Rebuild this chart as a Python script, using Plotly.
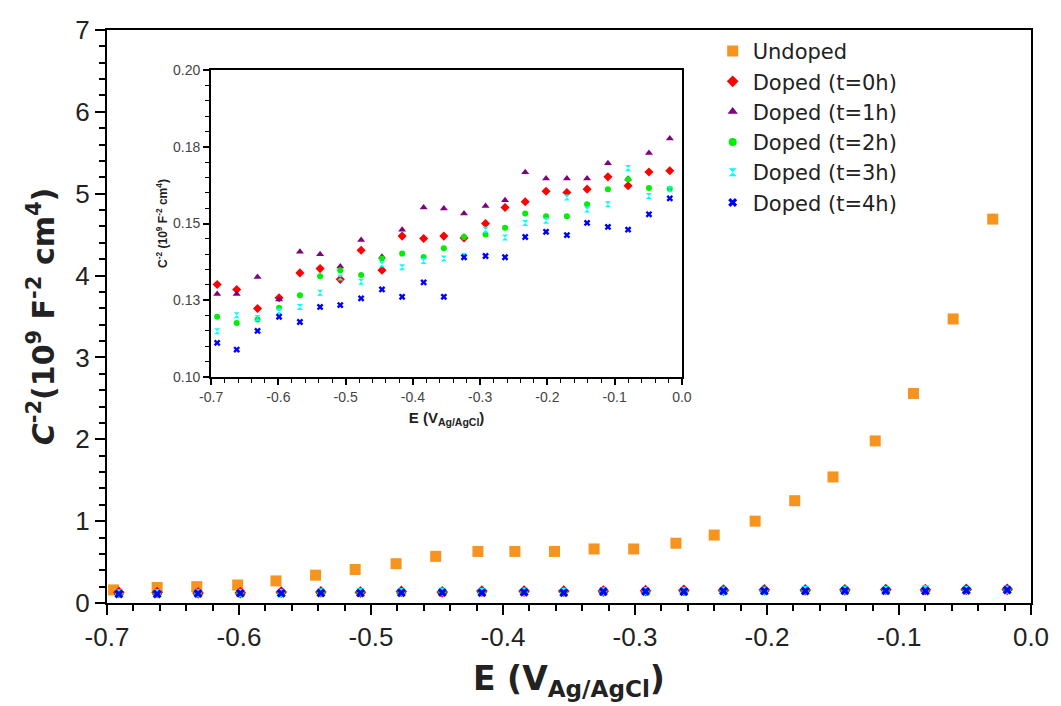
import plotly.graph_objects as go

# ---- data ----
e_undoped = [-0.695, -0.662, -0.632, -0.601, -0.572, -0.542, -0.512, -0.481, -0.451, -0.419,
             -0.391, -0.361, -0.331, -0.301, -0.269, -0.240, -0.209, -0.179, -0.150, -0.118,
             -0.089, -0.059, -0.029]
c_undoped = [0.16, 0.19, 0.20, 0.22, 0.27, 0.34, 0.41, 0.48, 0.57, 0.63,
             0.63, 0.63, 0.66, 0.66, 0.73, 0.83, 1.00, 1.25, 1.54, 1.98,
             2.56, 3.47, 4.69]

e_doped = [-0.691, -0.662, -0.631, -0.599, -0.568, -0.538, -0.508, -0.477, -0.446, -0.416,
           -0.384, -0.354, -0.324, -0.292, -0.263, -0.233, -0.202, -0.171, -0.141, -0.110,
           -0.080, -0.049, -0.018]
c_t0 = [0.1301, 0.1285, 0.1223, 0.1258, 0.1339, 0.1353, 0.1318, 0.1413, 0.1348, 0.1459,
        0.1451, 0.1459, 0.1453, 0.1500, 0.1552, 0.1571, 0.1605, 0.1601, 0.1612, 0.1652,
        0.1623, 0.1668, 0.1672]
c_t1 = [0.1270, 0.1270, 0.1326, 0.1252, 0.1408, 0.1400, 0.1360, 0.1446, 0.1392, 0.1480,
        0.1552, 0.1549, 0.1533, 0.1557, 0.1576, 0.1667, 0.1647, 0.1647, 0.1647, 0.1696,
        0.1646, 0.1730, 0.1777]
c_t2 = [0.1196, 0.1176, 0.1187, 0.1225, 0.1266, 0.1328, 0.1348, 0.1332, 0.1386, 0.1402,
        0.1391, 0.1419, 0.1456, 0.1464, 0.1486, 0.1533, 0.1524, 0.1524, 0.1563, 0.1612,
        0.1644, 0.1616, 0.1613]
c_t3 = [0.1149, 0.1201, 0.1192, 0.1214, 0.1228, 0.1274, 0.1324, 0.1310, 0.1367, 0.1357,
        0.1378, 0.1386, 0.1394, 0.1480, 0.1454, 0.1502, 0.1509, 0.1585, 0.1546, 0.1563,
        0.1681, 0.1590, 0.1612]
c_t4 = [0.1111, 0.1089, 0.1150, 0.1196, 0.1179, 0.1228, 0.1234, 0.1256, 0.1285, 0.1261,
        0.1308, 0.1261, 0.1390, 0.1394, 0.1390, 0.1456, 0.1473, 0.1462, 0.1502, 0.1489,
        0.1480, 0.1530, 0.1582]

x_tickvals = [-0.7, -0.6, -0.5, -0.4, -0.3, -0.2, -0.1, 0.0]
x_ticktext = ["-0.7", "-0.6", "-0.5", "-0.4", "-0.3", "-0.2", "-0.1", "0.0"]
inset_yticks = [0.100, 0.125, 0.150, 0.175, 0.200]
inset_yticktext = ["0.10", "0.13", "0.15", "0.18", "0.20"]

doped = [
    ("Doped (t=0h)", c_t0, "#ff0000", "diamond", 7),
    ("Doped (t=1h)", c_t1, "#800080", "triangle-up", 7),
    ("Doped (t=2h)", c_t2, "#00ee00", "circle", 6),
    ("Doped (t=3h)", c_t3, "#00ffff", "hourglass", 6),
    ("Doped (t=4h)", c_t4, "#0000ff", "x", 6),
]

FONT = "Liberation Sans, Arial, sans-serif"
WIDE = "DejaVu Sans, sans-serif"
fig = go.Figure()

fig.add_trace(go.Scatter(x=e_undoped, y=c_undoped, mode="markers", name="Undoped",
                         marker=dict(symbol="square", size=11, color="#f7941d"),
                         xaxis="x", yaxis="y"))
for name, vals, col, sym, sz in doped:
    fig.add_trace(go.Scatter(x=e_doped, y=vals, mode="markers", name=name,
                             marker=dict(symbol=sym, size=sz + 2, color=col,
                                         line=dict(width=0, color=col)),
                             xaxis="x", yaxis="y"))
for name, vals, col, sym, sz in doped:
    fig.add_trace(go.Scatter(x=e_doped, y=vals, mode="markers", name=name,
                             marker=dict(symbol=sym, size=sz, color=col,
                                         line=dict(width=0, color=col)),
                             xaxis="x2", yaxis="y2", showlegend=False))

axis_common = dict(showline=True, linecolor="black", linewidth=2, mirror=True,
                   ticks="outside", tickcolor="black", showgrid=False, zeroline=False)

fig.update_layout(
    width=1061, height=706,
    margin=dict(l=107, r=25, t=30, b=103),
    paper_bgcolor="white", plot_bgcolor="white",
    font=dict(family=FONT, color="#222"),
    xaxis=dict(range=[-0.7, 0.0], tickvals=x_tickvals, ticktext=x_ticktext,
               ticklen=10, tickwidth=2,
               minor=dict(dtick=0.02, tick0=-0.7, ticklen=6, tickwidth=1.5, ticks="outside", tickcolor="black"),
               tickfont=dict(size=26, family=FONT, color="#222"),
               title=dict(text="<b>E (V<sub>Ag/AgCl</sub>)</b>", font=dict(size=33, family=WIDE, color="#222"),
                          standoff=16),
               **axis_common),
    yaxis=dict(range=[0, 7], dtick=1, tick0=0, ticklen=10, tickwidth=2,
               minor=dict(dtick=0.2, ticklen=6, tickwidth=1.5, ticks="outside", tickcolor="black"),
               tickfont=dict(size=26, family=FONT, color="#222"),
               title=dict(text="<b><i>C</i><sup>-2</sup>(10<sup>9</sup> F<sup>-2</sup> cm<sup>4</sup>)</b>",
                          font=dict(size=30, family=WIDE, color="#222"), standoff=12),
               **axis_common),
    xaxis2=dict(domain=[0.1127, 0.6222], anchor="y2", range=[-0.7, 0.0],
                tickvals=x_tickvals, ticktext=x_ticktext, ticklen=6, tickwidth=1.5,
                minor=dict(dtick=0.02, tick0=-0.7, ticklen=4, tickwidth=1, ticks="outside", tickcolor="black"),
                tickfont=dict(size=14, family=FONT, color="#444"),
                title=dict(text="<b>E (V<sub>Ag/AgCl</sub>)</b>", font=dict(size=15, family=FONT, color="#222"),
                           standoff=9),
                **axis_common),
    yaxis2=dict(domain=[0.3946, 0.930], anchor="x2", range=[0.1, 0.2],
                tickvals=inset_yticks, ticktext=inset_yticktext, ticklen=6, tickwidth=1.5,
                minor=dict(dtick=0.005, tick0=0.1, ticklen=4, tickwidth=1, ticks="outside", tickcolor="black"),
                tickfont=dict(size=14, family=FONT, color="#444"),
                title=dict(text="<b>C<sup>-2</sup> (10<sup>9</sup> F<sup>-2</sup> cm<sup>4</sup>)</b>",
                           font=dict(size=12, family=FONT, color="#222"), standoff=3),
                **axis_common),
    legend=dict(x=0.6555, y=0.9985, xanchor="left", yanchor="top",
                font=dict(size=21, family=WIDE, color="#222"),
                bgcolor="rgba(255,255,255,0)", tracegroupgap=0, itemsizing="trace"),
    showlegend=True,
)

fig.write_html("out.html")
